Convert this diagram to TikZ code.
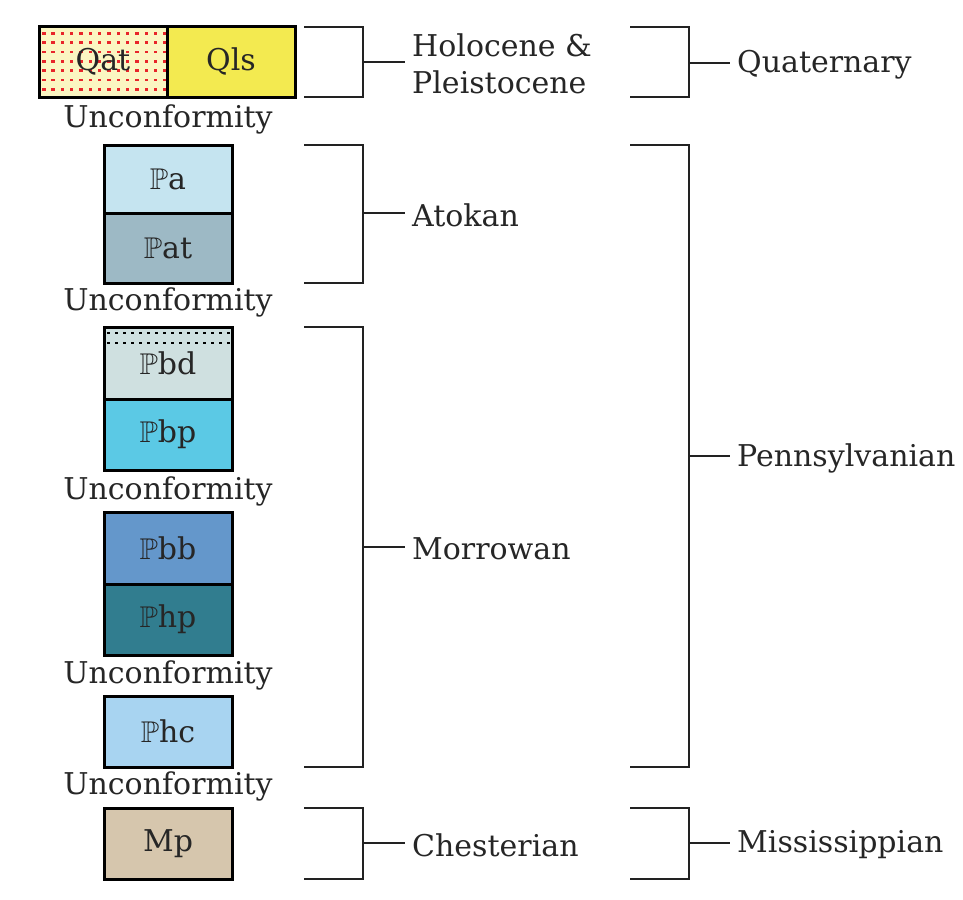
\documentclass[tikz,border=0pt]{standalone}
\usepackage{amssymb}
\usepackage{fontspec}
\setmainfont{DejaVu Serif}
\usetikzlibrary{calc}
\definecolor{txt}{HTML}{262626}
\definecolor{brkc}{HTML}{222222}
\definecolor{qatc}{HTML}{FBF6C2}
\definecolor{qlsc}{HTML}{F3EA50}
\definecolor{pac}{HTML}{C5E4F0}
\definecolor{patc}{HTML}{9DB9C5}
\definecolor{pbdc}{HTML}{CFE0E0}
\definecolor{pbpc}{HTML}{5BC9E5}
\definecolor{pbbc}{HTML}{6497CB}
\definecolor{phpc}{HTML}{317D8F}
\definecolor{phcc}{HTML}{A8D4F1}
\definecolor{mpc}{HTML}{D6C6AD}
\definecolor{dotred}{HTML}{E8252A}
\newcommand{\PP}{$\mathbb{P}$}
\begin{document}
\begin{tikzpicture}[x=1pt,y=-1pt,
  font=\fontsize{30}{37}\selectfont,
  unitbox/.style={draw=black, line width=3pt, minimum width=128pt, inner sep=0pt, text=txt},
  brk/.style={line width=2.7pt, draw=brkc},
  lbl/.style={anchor=west, inner xsep=7pt, inner ysep=0pt, yshift=-2pt, text=txt, align=left},
  unc/.style={anchor=base, inner sep=0pt, text=txt}]
\useasboundingbox (0,0) rectangle (963,899);

% units
\node[unitbox, fill=qatc, minimum height=70pt,
  path picture={
    \foreach \i in {0,...,13}{\foreach \j in {0,...,6}{
      \fill[dotred] ($(path picture bounding box.north west)+(3+\i*9.33,5+\j*9.33)$) rectangle ++(3.5,2.6);}}
  }] (qat) at (103,62) {Qat};
\node[unitbox, fill=qlsc, minimum height=70pt] (qls) at (231,62) {Qls};

\node[unitbox, fill=pac, minimum height=68pt] (pa) at (168,179) {\PP a};
\node[unitbox, fill=patc, minimum height=70pt] (pat) at (168,248) {\PP at};

\node[unitbox, fill=pbdc, minimum height=72pt,
  path picture={
    \foreach \i in {0,...,15}{\foreach \j in {0,1}{
      \fill[black] ($(path picture bounding box.north west)+(3+\i*8,5+\j*9.5)$) rectangle ++(3,2);}}
  }] (pbd) at (168,363) {\PP bd};
\node[unitbox, fill=pbpc, minimum height=71pt] (pbp) at (168,434.5) {\PP bp};

\node[unitbox, fill=pbbc, minimum height=72pt] (pbb) at (168,548) {\PP bb};
\node[unitbox, fill=phpc, minimum height=71pt] (php) at (168,619.5) {\PP hp};

\node[unitbox, fill=phcc, minimum height=71pt] (phc) at (168,731.5) {\PP hc};
\node[unitbox, fill=mpc, minimum height=71pt] (mp) at (168,843.5) {Mp};

% unconformities
\node[unc] (u1) at (168,127) {Unconformity};
\node[unc] (u2) at (168,310) {Unconformity};
\node[unc] (u3) at (168,499) {Unconformity};
\node[unc] (u4) at (168,683) {Unconformity};
\node[unc] (u5) at (168,794) {Unconformity};

% brackets
\foreach \n/\xl/\xr/\xt/\t/\b/\m/\txt in {
  hol/304/363/405/27/97/62/{Holocene \&\\Pleistocene},
  ato/304/363/405/145/283/213/Atokan,
  mor/304/363/405/327/767/547/Morrowan,
  che/304/363/405/808/879/843/Chesterian,
  qua/630/689/730/27/97/63/Quaternary,
  pen/630/689/730/145/767/456/Pennsylvanian,
  mis/630/689/730/808/879/843/Mississippian}{
  \coordinate (\n-t) at (\xl,\t);
  \coordinate (\n-b) at (\xl,\b);
  \coordinate (\n-m) at (\xr,\m);
  \coordinate (\n-e) at (\xt,\m);
  \node[lbl] (\n-l) at (\n-e) {\txt};
  \draw[brk] (\n-t) -| (\n-m) |- (\n-b);
  \draw[brk] (\n-m) -- (\n-e);
}
\end{tikzpicture}
\end{document}
